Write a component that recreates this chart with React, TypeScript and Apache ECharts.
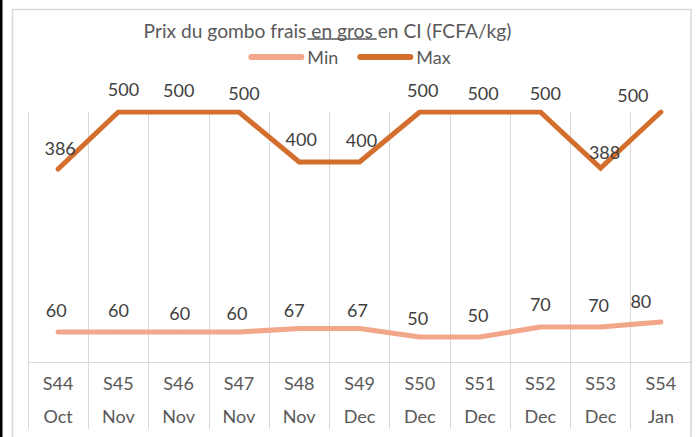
import React, { useEffect, useRef } from 'react';
import * as echarts from 'echarts';

const weeks = ['S44', 'S45', 'S46', 'S47', 'S48', 'S49', 'S50', 'S51', 'S52', 'S53', 'S54'];
const months = ['Oct', 'Nov', 'Nov', 'Nov', 'Nov', 'Dec', 'Dec', 'Dec', 'Dec', 'Dec', 'Jan'];
const minPrices = [60, 60, 60, 60, 67, 67, 50, 50, 70, 70, 80];
const maxPrices = [386, 500, 500, 500, 400, 400, 500, 500, 500, 388, 500];
const seriesNames = ['Min', 'Max'];
const titleParts = ['Prix du gombo frais', ' en gros ', 'en CI (FCFA/kg)'];

const FONT = 'Lato';
const MIN_COLOR = '#F2A68A';
const MAX_COLOR = '#D36E2C';
const GRID_COLOR = '#D9D9D9';
const TEXT_COLOR = '#595959';
const LABEL_COLOR = '#404040';

// small manual nudges of individual data labels, [dx, dy] in px
const minLabelNudge = [[-2, 0], [0, 0], [1, 3], [-2, 3], [-5, 4], [-2, 4], [-2, 3], [-2, 0], [0, -1], [-2, 0], [-20, 1]];
const maxLabelNudge = [[2, 1], [5, -1], [0, 0], [5, 3], [2, -1], [2, 0], [3, 0], [3, 3], [5, 3], [4, 6], [-28, 5]];

function measure(text: string, font: string): number {
  const ctx = document.createElement('canvas').getContext('2d');
  if (!ctx) return text.length * 8;
  ctx.font = font;
  return ctx.measureText(text).width;
}

export default function App() {
  const ref = useRef<HTMLDivElement>(null);

  useEffect(() => {
    if (!ref.current) return;
    const chart = echarts.init(ref.current, undefined, { renderer: 'svg' });

    const titleSize = 19.2;
    const titleFont = `${titleSize}px ${FONT}`;
    const w0 = measure(titleParts[0], titleFont);
    const w1 = measure(titleParts[1], titleFont);
    const w2 = measure(titleParts[2], titleFont);
    const titleCenter = 327.5;
    const titleY = 30.5;
    const tx0 = titleCenter - (w0 + w1 + w2) / 2;

    const labelBase = {
      show: true,
      position: 'top' as const,
      distance: 12,
      color: LABEL_COLOR,
      fontFamily: FONT,
      fontSize: 18,
    };

    const option: any = {
      animation: false,
      backgroundColor: '#ffffff',
      grid: { left: 28, right: 8, top: 112, bottom: 75, containLabel: false },
      xAxis: {
        type: 'category',
        data: weeks.map((w, i) => `${w}\n${months[i]}`),
        boundaryGap: true,
        axisLine: { show: true, lineStyle: { color: GRID_COLOR, width: 1 } },
        axisTick: { show: true, length: 67, lineStyle: { color: GRID_COLOR, width: 1 } },
        splitLine: { show: true, lineStyle: { color: GRID_COLOR, width: 1 } },
        axisLabel: {
          color: TEXT_COLOR,
          fontFamily: FONT,
          fontSize: 18,
          lineHeight: 33,
          margin: 4,
          interval: 0,
        },
      },
      yAxis: { type: 'value', min: 0, max: 500, show: false, splitLine: { show: false } },
      legend: {
        top: 43,
        left: 'center',
        itemWidth: 56,
        itemHeight: 6,
        itemGap: 19,
        icon: 'path://M3,0 H53 A3,3 0 0 1 53,6 H3 A3,3 0 0 1 3,0 Z',
        textStyle: { color: TEXT_COLOR, fontFamily: FONT, fontSize: 18, padding: [0, 0, 0, -2] },
        data: [
          { name: seriesNames[0], itemStyle: { color: MIN_COLOR } },
          { name: seriesNames[1], itemStyle: { color: MAX_COLOR } },
        ],
      },
      graphic: [
        { type: 'rect', shape: { x: 0, y: 0, width: 2.5, height: 437 }, style: { fill: '#000' }, silent: true },
        {
          type: 'rect',
          shape: { x: 12.5, y: 9.5, width: 678.5, height: 460 },
          style: { fill: 'none', stroke: GRID_COLOR, lineWidth: 1.5 },
          silent: true,
          z: -1,
        },
        {
          type: 'text', x: tx0, y: titleY,
          style: { text: titleParts[0], fontSize: titleSize, fontFamily: FONT, fill: TEXT_COLOR, align: 'left', verticalAlign: 'middle' },
        },
        {
          type: 'text', x: tx0 + w0, y: titleY,
          style: { text: titleParts[1], fontSize: titleSize, fontFamily: FONT, fill: TEXT_COLOR, align: 'left', verticalAlign: 'middle' },
        },
        {
          type: 'text', x: tx0 + w0 + w1, y: titleY,
          style: { text: titleParts[2], fontSize: titleSize, fontFamily: FONT, fill: TEXT_COLOR, align: 'left', verticalAlign: 'middle' },
        },
        {
          type: 'line',
          shape: { x1: tx0 + w0 + 1, y1: 39, x2: tx0 + w0 + w1 - 1, y2: 39 },
          style: { stroke: TEXT_COLOR, lineWidth: 1.4 },
          silent: true,
        },
      ],
      series: [
        {
          name: seriesNames[0],
          type: 'line',
          data: minPrices.map((v, i) => ({ value: v, label: { offset: minLabelNudge[i] } })),
          symbol: 'circle',
          symbolSize: 3,
          itemStyle: { color: MIN_COLOR },
          lineStyle: { color: MIN_COLOR, width: 5, cap: 'round', join: 'round' },
          label: labelBase,
          z: 3,
        },
        {
          name: seriesNames[1],
          type: 'line',
          data: maxPrices.map((v, i) => ({ value: v, label: { offset: maxLabelNudge[i] } })),
          symbol: 'circle',
          symbolSize: 3,
          itemStyle: { color: MAX_COLOR },
          lineStyle: { color: MAX_COLOR, width: 5, cap: 'round', join: 'miter' },
          label: labelBase,
          z: 3,
        },
      ],
    };

    chart.setOption(option);
    return () => chart.dispose();
  }, []);

  return (
    <div
      ref={ref}
      style={{ position: 'fixed', left: 0, top: 0, width: 699, height: 437, background: '#fff' }}
    />
  );
}
